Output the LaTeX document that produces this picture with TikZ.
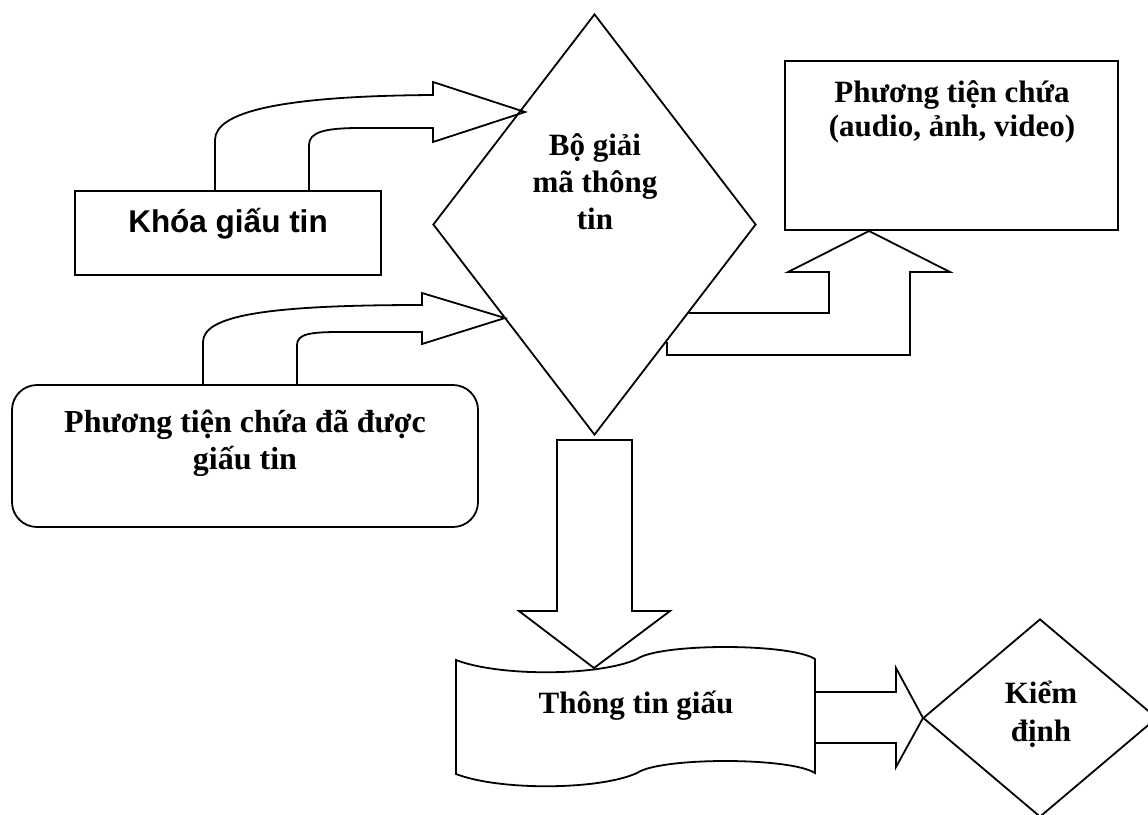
\documentclass[tikz,border=0pt]{standalone}
\usepackage{fontspec}
\setmainfont{Liberation Serif}
\newfontfamily\arialf{Liberation Sans}
\usetikzlibrary{shapes.geometric}
\newcommand\mylines[1]{\begin{tabular}[t]{@{}c@{}}#1\end{tabular}}
\begin{document}
\begin{tikzpicture}[x=1pt,y=-1pt,
  shp/.style={draw, line width=1.8pt, inner sep=0pt},
  blk/.style={draw, line width=1.8pt, line join=miter},
  txt/.style={inner sep=0pt, anchor=base, font=\bfseries\fontsize{31}{37}\selectfont}]
\useasboundingbox (0,0) rectangle (1148,814);

% boxes
\node[shp, minimum width=306pt, minimum height=84pt] (khoa) at (228,233) {};
\node[txt, font=\arialf\bfseries\fontsize{31.5}{36}\selectfont] (khoat) at (228,232) {Khóa giấu tin};

\node[shp, rounded corners=25pt, minimum width=466pt, minimum height=142pt] (ptc) at (245,456) {};
\node[txt, font=\bfseries\fontsize{32}{37}\selectfont] (ptct) at (245,432) {\mylines{Phương tiện chứa đã được\\giấu tin}};

\node[shp, minimum width=333pt, minimum height=169pt] (ptg) at (951.5,145.5) {};
\node[txt, font=\bfseries\fontsize{31}{34}\selectfont] (ptgt) at (952,102) {\mylines{Phương tiện chứa\\(audio, ảnh, video)}};

\node[shp, diamond, minimum width=323pt, minimum height=421pt] (dec) at (594.5,224.5) {};
\node[txt] (dect) at (595,155) {\mylines{Bộ giải\\mã thông\\tin}};

\node[shp, diamond, minimum width=234pt, minimum height=198pt] (kd) at (1040,718) {};
\node[txt, font=\bfseries\fontsize{31}{38}\selectfont] (kdt) at (1041,703) {\mylines{Kiểm\\định}};

% wave (punched tape)
\draw[blk] (456,660) .. controls (500,677) and (600,676) .. (637,659)
  .. controls (660,643) and (790,643) .. (815,659) -- (815,773)
  .. controls (790,757) and (660,757) .. (637,773)
  .. controls (600,790) and (500,791) .. (456,774) -- cycle;
\node[txt] (ttg) at (636,713) {Thông tin giấu};

% curved arrow from key box
\draw[blk] (309,191) -- (309,145) .. controls (309,132) and (325,128) .. (360,128) -- (433,128)
  -- (433,142) -- (525,112) -- (433,82) -- (433,95)
  .. controls (280,96) and (215,112) .. (215,140) -- (215,191);

% curved arrow from stego box
\draw[blk] (297,385) -- (297,345) .. controls (297,334) and (310,332) .. (340,332) -- (422,332)
  -- (422,344) -- (505,318) -- (422,293) -- (422,305)
  .. controls (270,305) and (203,315) .. (203,342) -- (203,385);

% bent-up arrow to cover box
\draw[blk] (689,313) -- (829,313) -- (829,272) -- (788,272) -- (869,231)
  -- (950,272) -- (910,272) -- (910,355) -- (667,355) -- (667,342);

% down arrow
\draw[blk] (557,440) -- (632,440) -- (632,611) -- (670,611) -- (594,668)
  -- (519,611) -- (557,611) -- cycle;

% right arrow to Kiem dinh
\draw[blk] (815,692) -- (896,692) -- (896,668) -- (923,718) -- (896,767)
  -- (896,743) -- (815,743);
\end{tikzpicture}
\end{document}
